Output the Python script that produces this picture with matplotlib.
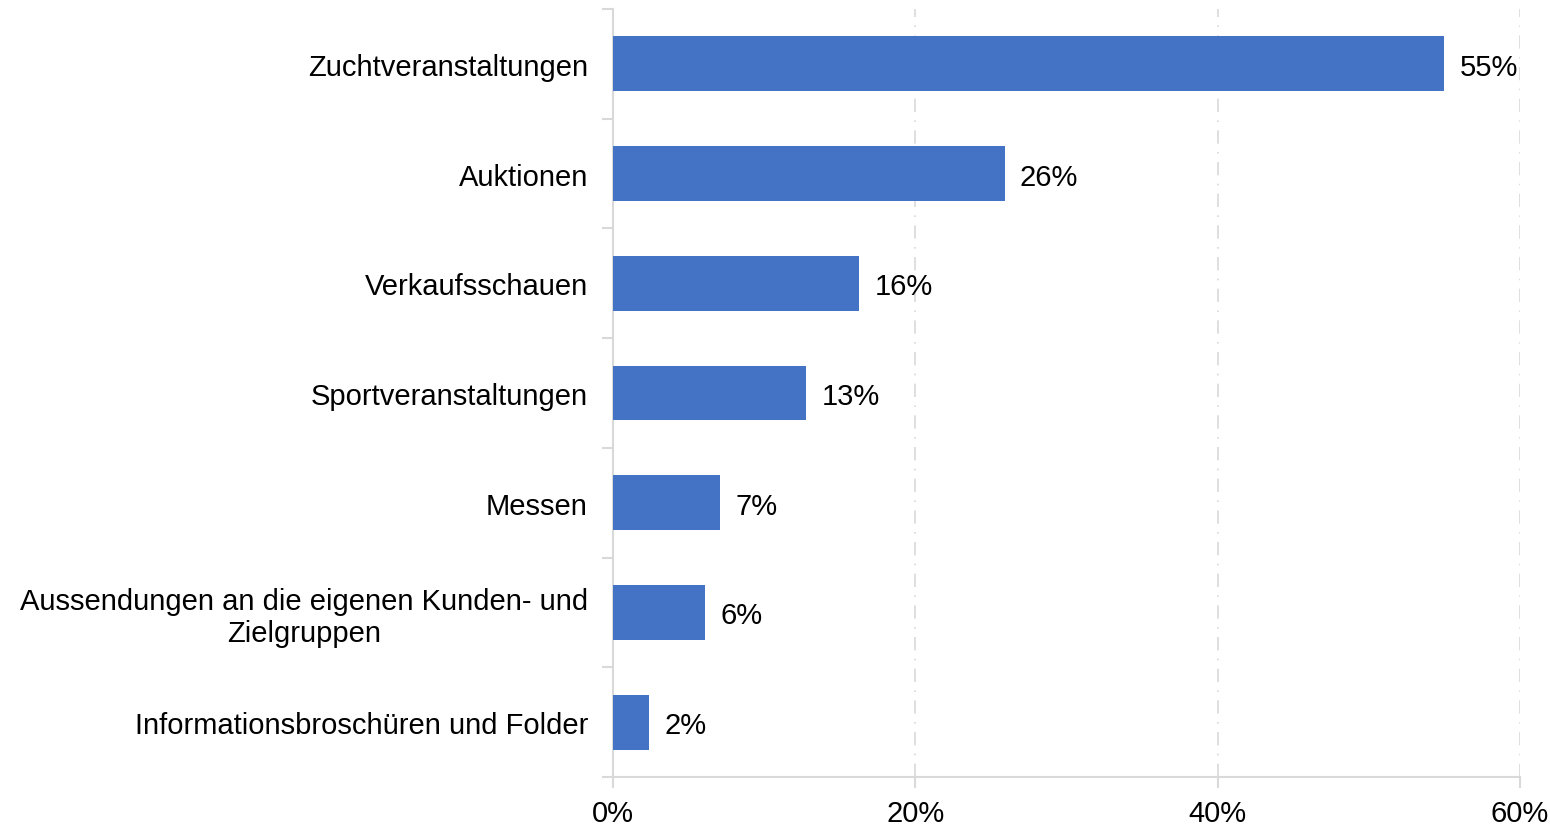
import matplotlib
matplotlib.use("Agg")
import matplotlib.pyplot as plt

categories = [
    "Zuchtveranstaltungen",
    "Auktionen",
    "Verkaufsschauen",
    "Sportveranstaltungen",
    "Messen",
    "Aussendungen an die eigenen Kunden- und\nZielgruppen",
    "Informationsbroschüren und Folder",
]
values = [55.0, 25.9, 16.3, 12.8, 7.1, 6.1, 2.4]
value_labels = ["55%", "26%", "16%", "13%", "7%", "6%", "2%"]
xticks = [0, 20, 40, 60]
xtick_labels = ["0%", "20%", "40%", "60%"]

plt.rcParams['font.family'] = ['Liberation Sans', 'DejaVu Sans']

fig = plt.figure(figsize=(15.5, 8.28), dpi=100)
ax = fig.add_axes([613/1550, 50/828, (1520-613)/1550, (778-10)/828])

ypos = list(range(len(categories)))
ax.barh(ypos, values, height=0.5, color="#4472C4", zorder=3)
ax.set_ylim(len(categories) - 0.5, -0.5)
ax.set_xlim(0, 60)

for y, v, lab in zip(ypos, values, value_labels):
    ax.annotate(lab, (v, y), xytext=(11, 0), textcoords="offset points",
                va="center_baseline", ha="left", fontsize=21, color="#000000", zorder=4)

ax.set_yticks(ypos)
ax.set_yticklabels(categories, fontsize=21, ha="right", multialignment="center",
                   linespacing=1.15)
ax.tick_params(axis="y", length=0, pad=18)
ax.set_yticks([i - 0.5 for i in range(len(categories) + 1)], minor=True)
ax.tick_params(axis="y", which="minor", length=8, color="#D9D9D9", width=1.5)

ax.set_xticks(xticks)
ax.set_xticklabels(xtick_labels, fontsize=21)
ax.tick_params(axis="x", length=8, color="#D9D9D9", width=1.5, pad=8)

ax.grid(axis="x", color="#D9D9D9", linestyle=(0, (8, 5, 1, 5)), linewidth=1.2, zorder=0)
ax.get_xgridlines()[0].set_visible(False)

for s in ["top", "right"]:
    ax.spines[s].set_visible(False)
for s in ["left", "bottom"]:
    ax.spines[s].set_color("#D9D9D9")
    ax.spines[s].set_linewidth(1.5)

fig.savefig("out.png", dpi=100)
